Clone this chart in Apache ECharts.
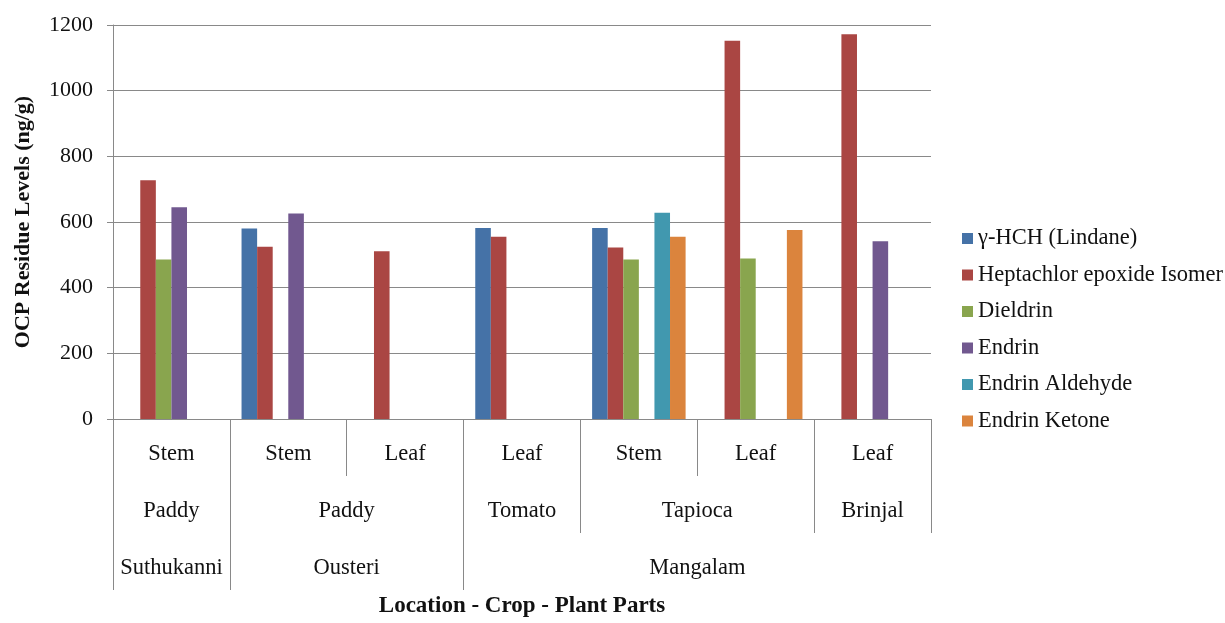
<!DOCTYPE html>
<html>
<head>
<meta charset="utf-8">
<script src="https://cdn.jsdelivr.net/npm/echarts@6/dist/echarts.min.js"></script>
<style>html,body{margin:0;padding:0;background:#fff;}#c{width:1225px;height:623px;}</style>
</head>
<body>
<div id="c"></div>
<script>
// ---- data ----
var parts = ['Stem', 'Stem', 'Leaf', 'Leaf', 'Stem', 'Leaf', 'Leaf'];
var crops = ['Paddy', 'Paddy', 'Tomato', 'Tapioca', 'Brinjal'];
var cropSpans = [1, 2, 1, 2, 1];
var locations = ['Suthukanni', 'Ousteri', 'Mangalam'];
var locationSpans = [1, 2, 4];
var seriesNames = ['γ-HCH (Lindane)', 'Heptachlor epoxide Isomer', 'Dieldrin', 'Endrin', 'Endrin Aldehyde', 'Endrin Ketone'];
var lindane     = [null, 580, null, 582, 582, null, null];
var heptachlor  = [727, 525, 511, 555, 522, 1152, 1172];
var dieldrin    = [486, null, null, null, 486, 489, null];
var endrin      = [645, 626, null, null, null, null, 541];
var aldehyde    = [null, null, null, null, 628, null, null];
var ketone      = [null, null, null, null, 555, 576, null];
var yTicks = [0, 200, 400, 600, 800, 1000, 1200];

var colors = ['#4572A7', '#AA4643', '#89A54E', '#71588F', '#4198AF', '#DB843D'];
var values = [lindane, heptachlor, dieldrin, endrin, aldehyde, ketone];

function spanInfo(names, spans) {
  var bounds = [0], centers = [], map = {}, acc = 0;
  for (var i = 0; i < spans.length; i++) {
    var c = acc + spans[i] / 2;
    centers.push(c); map[c] = names[i];
    acc += spans[i]; bounds.push(acc);
  }
  return {bounds: bounds, centers: centers, map: map};
}
var cropInfo = spanInfo(crops, cropSpans);
var locInfo = spanInfo(locations, locationSpans);

var FONT = '"Liberation Serif", "Times New Roman", serif';
var GRAY = '#898989';
var TXT = '#111';
var n = parts.length;

function levelAxis(info, offset, ticks, extra) {
  var ax = {
    type: 'value', position: 'bottom', offset: offset, min: 0, max: n,
    axisLine: {show: false},
    splitLine: {show: false},
    axisTick: {show: true, customValues: ticks, length: 57, lineStyle: {color: GRAY}},
    axisLabel: {
      customValues: info.centers, margin: 24,
      formatter: function (v) { return info.map[v] || ''; },
      fontFamily: FONT, fontSize: 22.5, color: TXT
    }
  };
  for (var k in extra) ax[k] = extra[k];
  return ax;
}

var chart = echarts.init(document.getElementById('c'));
chart.setOption({
  animation: false,
  color: colors,
  grid: {left: 113, right: 294, top: 25, bottom: 198, containLabel: false},
  legend: {
    orient: 'vertical', left: 957, top: 222,
    itemWidth: 11, itemHeight: 11, itemGap: 13.5, icon: 'rect',
    textStyle: {fontFamily: FONT, fontSize: 22.5, color: TXT},
    data: seriesNames
  },
  xAxis: [
    {
      type: 'category', data: parts, position: 'bottom',
      axisLine: {show: true, lineStyle: {color: GRAY}},
      axisTick: {show: true, length: 57, interval: 0, lineStyle: {color: GRAY}},
      axisLabel: {interval: 0, margin: 24, fontFamily: FONT, fontSize: 22.5, color: TXT}
    },
    levelAxis(cropInfo, 57, cropInfo.bounds, {}),
    levelAxis(locInfo, 114, locInfo.bounds.slice(0, -1), {
      name: 'Location - Crop - Plant Parts', nameLocation: 'middle', nameGap: 62,
      nameTextStyle: {fontFamily: FONT, fontSize: 23, fontWeight: 'bold', color: TXT}
    })
  ],
  yAxis: {
    type: 'value', min: yTicks[0], max: yTicks[yTicks.length - 1], interval: yTicks[1] - yTicks[0],
    name: 'OCP Residue Levels (ng/g)', nameLocation: 'middle', nameGap: 79,
    nameTextStyle: {fontFamily: FONT, fontSize: 22, fontWeight: 'bold', color: TXT},
    axisLine: {show: true, lineStyle: {color: GRAY}},
    axisTick: {show: true, length: 6, lineStyle: {color: GRAY}},
    axisLabel: {margin: 20, fontFamily: FONT, fontSize: 22, color: TXT,
      formatter: function (v) { return String(v); }},
    splitLine: {show: true, lineStyle: {color: GRAY, width: 1}}
  },
  series: seriesNames.map(function (nm, i) {
    return {
      name: nm, type: 'bar', xAxisIndex: 0, data: values[i],
      barGap: '0%', barCategoryGap: '20%',
      itemStyle: {color: colors[i]}
    };
  })
});
</script>
</body>
</html>
